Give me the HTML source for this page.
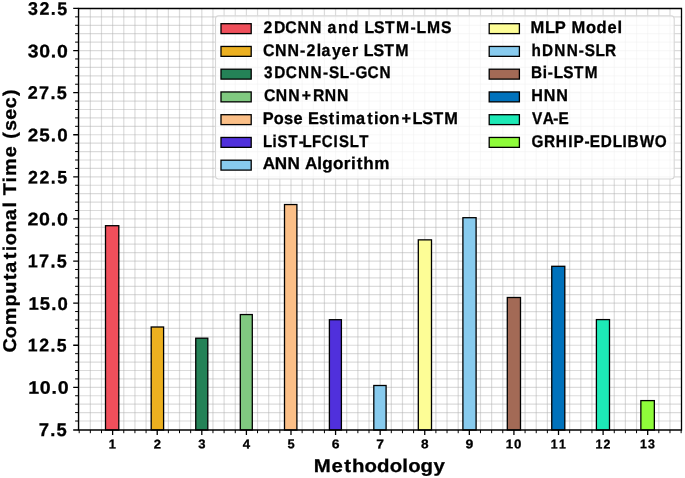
<!DOCTYPE html>
<html><head><meta charset="utf-8"><style>
html,body{margin:0;padding:0;background:#fff;}
body{width:685px;height:478px;overflow:hidden;font-family:"Liberation Sans",sans-serif;}
svg{display:block;will-change:transform;}
text{text-rendering:geometricPrecision;}
</style></head><body>
<svg width="685" height="478" viewBox="0 0 685 478">
<rect width="685" height="478" fill="#fff"/>
<path d="M79.19 8.5V430.0 M90.34 8.5V430.0 M101.49 8.5V430.0 M112.63 8.5V430.0 M123.78 8.5V430.0 M134.93 8.5V430.0 M146.07 8.5V430.0 M157.22 8.5V430.0 M168.37 8.5V430.0 M179.51 8.5V430.0 M190.66 8.5V430.0 M201.81 8.5V430.0 M212.96 8.5V430.0 M224.10 8.5V430.0 M235.25 8.5V430.0 M246.40 8.5V430.0 M257.54 8.5V430.0 M268.69 8.5V430.0 M279.84 8.5V430.0 M290.99 8.5V430.0 M302.13 8.5V430.0 M313.28 8.5V430.0 M324.43 8.5V430.0 M335.57 8.5V430.0 M346.72 8.5V430.0 M357.87 8.5V430.0 M369.01 8.5V430.0 M380.16 8.5V430.0 M391.31 8.5V430.0 M402.46 8.5V430.0 M413.60 8.5V430.0 M424.75 8.5V430.0 M435.90 8.5V430.0 M447.04 8.5V430.0 M458.19 8.5V430.0 M469.34 8.5V430.0 M480.48 8.5V430.0 M491.63 8.5V430.0 M502.78 8.5V430.0 M513.92 8.5V430.0 M525.07 8.5V430.0 M536.22 8.5V430.0 M547.37 8.5V430.0 M558.51 8.5V430.0 M569.66 8.5V430.0 M580.81 8.5V430.0 M591.95 8.5V430.0 M603.10 8.5V430.0 M614.25 8.5V430.0 M625.39 8.5V430.0 M636.54 8.5V430.0 M647.69 8.5V430.0 M658.84 8.5V430.0 M669.98 8.5V430.0" stroke="#b0b0b0" stroke-opacity="0.45" stroke-width="1.2" fill="none"/>
<path d="M78.5 421.02H681.5 M78.5 412.60H681.5 M78.5 404.18H681.5 M78.5 395.76H681.5 M78.5 387.34H681.5 M78.5 378.92H681.5 M78.5 370.50H681.5 M78.5 362.08H681.5 M78.5 353.66H681.5 M78.5 345.24H681.5 M78.5 336.82H681.5 M78.5 328.40H681.5 M78.5 319.98H681.5 M78.5 311.56H681.5 M78.5 303.14H681.5 M78.5 294.72H681.5 M78.5 286.30H681.5 M78.5 277.88H681.5 M78.5 269.46H681.5 M78.5 261.04H681.5 M78.5 252.62H681.5 M78.5 244.20H681.5 M78.5 235.78H681.5 M78.5 227.36H681.5 M78.5 218.94H681.5 M78.5 210.52H681.5 M78.5 202.10H681.5 M78.5 193.68H681.5 M78.5 185.26H681.5 M78.5 176.84H681.5 M78.5 168.42H681.5 M78.5 160.00H681.5 M78.5 151.58H681.5 M78.5 143.16H681.5 M78.5 134.74H681.5 M78.5 126.32H681.5 M78.5 117.90H681.5 M78.5 109.48H681.5 M78.5 101.06H681.5 M78.5 92.64H681.5 M78.5 84.22H681.5 M78.5 75.80H681.5 M78.5 67.38H681.5 M78.5 58.96H681.5 M78.5 50.54H681.5 M78.5 42.12H681.5 M78.5 33.70H681.5 M78.5 25.28H681.5 M78.5 16.86H681.5" stroke="#b0b0b0" stroke-opacity="0.45" stroke-width="1.2" fill="none"/>
<rect x="105.50" y="225.70" width="13.30" height="204.30" fill="#EF4F5B" stroke="#000" stroke-width="1.3"/>
<rect x="151.20" y="327.00" width="12.40" height="103.00" fill="#ECB020" stroke="#000" stroke-width="1.3"/>
<rect x="195.75" y="338.20" width="12.05" height="91.80" fill="#248257" stroke="#000" stroke-width="1.3"/>
<rect x="240.30" y="314.55" width="12.00" height="115.45" fill="#80C980" stroke="#000" stroke-width="1.3"/>
<rect x="284.50" y="204.55" width="12.40" height="225.45" fill="#FBBF87" stroke="#000" stroke-width="1.3"/>
<rect x="329.40" y="319.70" width="12.00" height="110.30" fill="#5030DC" stroke="#000" stroke-width="1.3"/>
<rect x="373.80" y="385.50" width="12.30" height="44.50" fill="#88CBEE" stroke="#000" stroke-width="1.3"/>
<rect x="418.30" y="239.86" width="13.20" height="190.14" fill="#FDFD96" stroke="#000" stroke-width="1.3"/>
<rect x="462.90" y="217.70" width="13.20" height="212.30" fill="#88CBEE" stroke="#000" stroke-width="1.3"/>
<rect x="507.30" y="297.50" width="13.20" height="132.50" fill="#A36A56" stroke="#000" stroke-width="1.3"/>
<rect x="551.75" y="266.30" width="13.05" height="163.70" fill="#0072BC" stroke="#000" stroke-width="1.3"/>
<rect x="596.40" y="319.60" width="13.10" height="110.40" fill="#1DE9B6" stroke="#000" stroke-width="1.3"/>
<rect x="640.86" y="400.60" width="13.49" height="29.40" fill="#8FFC3A" stroke="#000" stroke-width="1.3"/>
<path d="M78.5 430.00H73.2 M78.5 387.34H73.2 M78.5 345.24H73.2 M78.5 303.14H73.2 M78.5 261.04H73.2 M78.5 218.94H73.2 M78.5 176.84H73.2 M78.5 134.74H73.2 M78.5 92.64H73.2 M78.5 50.54H73.2 M78.5 8.44H73.2 M112.63 430.0V435.0 M157.22 430.0V435.0 M201.81 430.0V435.0 M246.40 430.0V435.0 M290.99 430.0V435.0 M335.57 430.0V435.0 M380.16 430.0V435.0 M424.75 430.0V435.0 M469.34 430.0V435.0 M513.92 430.0V435.0 M558.51 430.0V435.0 M603.10 430.0V435.0 M647.69 430.0V435.0" stroke="#000" stroke-width="1.3"/>
<path d="M78.5 421.02H75.1 M78.5 412.60H75.1 M78.5 404.18H75.1 M78.5 395.76H75.1 M78.5 378.92H75.1 M78.5 370.50H75.1 M78.5 362.08H75.1 M78.5 353.66H75.1 M78.5 336.82H75.1 M78.5 328.40H75.1 M78.5 319.98H75.1 M78.5 311.56H75.1 M78.5 294.72H75.1 M78.5 286.30H75.1 M78.5 277.88H75.1 M78.5 269.46H75.1 M78.5 252.62H75.1 M78.5 244.20H75.1 M78.5 235.78H75.1 M78.5 227.36H75.1 M78.5 210.52H75.1 M78.5 202.10H75.1 M78.5 193.68H75.1 M78.5 185.26H75.1 M78.5 168.42H75.1 M78.5 160.00H75.1 M78.5 151.58H75.1 M78.5 143.16H75.1 M78.5 126.32H75.1 M78.5 117.90H75.1 M78.5 109.48H75.1 M78.5 101.06H75.1 M78.5 84.22H75.1 M78.5 75.80H75.1 M78.5 67.38H75.1 M78.5 58.96H75.1 M78.5 42.12H75.1 M78.5 33.70H75.1 M78.5 25.28H75.1 M78.5 16.86H75.1 M79.19 430.0V433.2 M90.34 430.0V433.2 M101.49 430.0V433.2 M123.78 430.0V433.2 M134.93 430.0V433.2 M146.07 430.0V433.2 M168.37 430.0V433.2 M179.51 430.0V433.2 M190.66 430.0V433.2 M212.96 430.0V433.2 M224.10 430.0V433.2 M235.25 430.0V433.2 M257.54 430.0V433.2 M268.69 430.0V433.2 M279.84 430.0V433.2 M302.13 430.0V433.2 M313.28 430.0V433.2 M324.43 430.0V433.2 M346.72 430.0V433.2 M357.87 430.0V433.2 M369.01 430.0V433.2 M391.31 430.0V433.2 M402.46 430.0V433.2 M413.60 430.0V433.2 M435.90 430.0V433.2 M447.04 430.0V433.2 M458.19 430.0V433.2 M480.48 430.0V433.2 M491.63 430.0V433.2 M502.78 430.0V433.2 M525.07 430.0V433.2 M536.22 430.0V433.2 M547.37 430.0V433.2 M569.66 430.0V433.2 M580.81 430.0V433.2 M591.95 430.0V433.2 M614.25 430.0V433.2 M625.39 430.0V433.2 M636.54 430.0V433.2 M658.84 430.0V433.2 M669.98 430.0V433.2 M681.13 430.0V433.2" stroke="#000" stroke-width="1.0"/>
<path d="M78.5 7.85V430.65M681.5 7.85V430.65M77.85 8.5H682.15M77.85 430.0H682.15" fill="none" stroke="#000" stroke-width="1.3"/>
<rect x="215.5" y="15.85" width="458.7" height="163.2" rx="3" fill="#fff" fill-opacity="0.8" stroke="#d6d6d6" stroke-width="1.1"/>
<rect x="221.0" y="23.70" width="30.2" height="9.9" fill="#EF4F5B" stroke="#000" stroke-width="1.3"/>
<rect x="221.0" y="46.45" width="30.2" height="9.9" fill="#ECB020" stroke="#000" stroke-width="1.3"/>
<rect x="221.0" y="69.20" width="30.2" height="9.9" fill="#248257" stroke="#000" stroke-width="1.3"/>
<rect x="221.0" y="91.95" width="30.2" height="9.9" fill="#80C980" stroke="#000" stroke-width="1.3"/>
<rect x="221.0" y="114.70" width="30.2" height="9.9" fill="#FBBF87" stroke="#000" stroke-width="1.3"/>
<rect x="221.0" y="137.45" width="30.2" height="9.9" fill="#5030DC" stroke="#000" stroke-width="1.3"/>
<rect x="221.0" y="160.20" width="30.2" height="9.9" fill="#88CBEE" stroke="#000" stroke-width="1.3"/>
<rect x="489.2" y="23.70" width="30.2" height="9.9" fill="#FDFD96" stroke="#000" stroke-width="1.3"/>
<rect x="489.2" y="46.45" width="30.2" height="9.9" fill="#88CBEE" stroke="#000" stroke-width="1.3"/>
<rect x="489.2" y="69.20" width="30.2" height="9.9" fill="#A36A56" stroke="#000" stroke-width="1.3"/>
<rect x="489.2" y="91.95" width="30.2" height="9.9" fill="#0072BC" stroke="#000" stroke-width="1.3"/>
<rect x="489.2" y="114.70" width="30.2" height="9.9" fill="#1DE9B6" stroke="#000" stroke-width="1.3"/>
<rect x="489.2" y="137.45" width="30.2" height="9.9" fill="#8FFC3A" stroke="#000" stroke-width="1.3"/>
<g font-family="Liberation Sans" font-weight="bold" fill="#000" stroke="#000" stroke-width="0.3"><text x="-2.09 63.52 136.43 213.08 293.34 365.56 403.89 471.44 539.06 600.14 639.29 700.36 770.26 839.77 932.15 970.12 1036.12 1126.63" transform="translate(263.90,32.95) scale(0.1573,0.1696) rotate(0)" font-size="100.0" stroke-width="1.835">2DCNN and LSTM-LMS</text><text x="-7.53 67.81 146.69 225.03 266.36 329.42 359.63 425.46 485.17 550.38 589.29 625.31 685.33 754.06 822.19" transform="translate(264.10,55.70) scale(0.1595,0.1696) rotate(0)" font-size="100.0" stroke-width="1.823">CNN-2layer LSTM</text><text x="-0.23 67.45 142.13 220.62 302.84 383.68 422.94 493.71 557.81 596.25 674.19 752.69" transform="translate(264.00,78.45) scale(0.1536,0.1696) rotate(0)" font-size="100.0" stroke-width="1.856">3DCNN-SL-GCN</text><text x="-7.37 68.39 147.72 233.79 304.44 379.43 458.76" transform="translate(265.10,101.20) scale(0.1570,0.1696) rotate(0)" font-size="100.0" stroke-width="1.837">CNN+RNN</text><text x="-7.20 61.05 123.55 181.69 237.30 271.21 337.13 397.27 438.53 472.21 564.53 632.45 673.71 704.71 769.52 842.33 910.72 969.71 1037.34 1104.15" transform="translate(263.80,123.95) scale(0.1634,0.1696) rotate(0)" font-size="100.0" stroke-width="1.802">Pose Estimation+LSTM</text><text x="-6.18 58.42 92.10 165.06 233.93 259.60 323.25 388.50 467.55 502.91 575.13 639.77" transform="translate(263.80,146.70) scale(0.1493,0.1696) rotate(0)" font-size="100.0" stroke-width="1.882">LiST-LFCISLT</text><text x="-2.09 69.19 143.40 215.62 245.81 317.61 347.14 410.02 474.34 516.12 549.31 588.28 652.53" transform="translate(263.00,169.45) scale(0.1705,0.1696) rotate(0)" font-size="100.0" stroke-width="1.764">ANN Algorithm</text><text x="-4.35 82.17 141.16 207.86 243.00 330.82 394.02 460.53 521.56" transform="translate(531.30,32.95) scale(0.1655,0.1696) rotate(0)" font-size="100.0" stroke-width="1.791">MLP Model</text><text x="-4.54 64.94 144.39 224.93 304.51 342.64 411.97 474.03" transform="translate(532.10,55.70) scale(0.1536,0.1696) rotate(0)" font-size="100.0" stroke-width="1.856">hDNN-SLR</text><text x="-7.97 67.99 101.54 140.00 201.63 272.13 342.37" transform="translate(532.20,78.45) scale(0.1538,0.1696) rotate(0)" font-size="100.0" stroke-width="1.856">Bi-LSTM</text><text x="-5.57 72.21 149.98" transform="translate(532.20,101.20) scale(0.1607,0.1696) rotate(0)" font-size="100.0" stroke-width="1.817">HNN</text><text x="2.53 72.92 141.71 176.22" transform="translate(531.50,123.95) scale(0.1537,0.1696) rotate(0)" font-size="100.0" stroke-width="1.856">VA-E</text><text x="-3.96 77.54 154.42 235.44 270.31 342.08 376.59 448.78 526.22 590.64 623.51 703.18 801.21" transform="translate(532.20,146.70) scale(0.1529,0.1696) rotate(0)" font-size="100.0" stroke-width="1.861">GRHIP-EDLIBWO</text><text x="-1.69 63.20 126.96 163.14" transform="translate(28.20,14.72) scale(0.1782,0.1817) rotate(0.3)" font-size="100.0" stroke-width="1.667">32.5</text><text x="-3.78 55.95 115.42 147.74" transform="translate(28.40,57.27) scale(0.1936,0.1817) rotate(0.3)" font-size="100.0" stroke-width="1.599">30.0</text><text x="-3.31 59.48 123.04 158.32" transform="translate(28.40,98.82) scale(0.1794,0.1817) rotate(0.3)" font-size="100.0" stroke-width="1.662">27.5</text><text x="-3.86 58.14 119.93 154.34" transform="translate(28.40,141.17) scale(0.1873,0.1817) rotate(0.3)" font-size="100.0" stroke-width="1.626">25.0</text><text x="-2.81 62.02 125.90 162.21" transform="translate(28.40,183.47) scale(0.1771,0.1817) rotate(0.3)" font-size="100.0" stroke-width="1.672">22.5</text><text x="-4.87 54.74 114.25 146.61" transform="translate(28.40,225.27) scale(0.1956,0.1817) rotate(0.3)" font-size="100.0" stroke-width="1.590">20.0</text><text x="-6.43 56.44 120.10 155.47" transform="translate(28.80,267.27) scale(0.1799,0.1843) rotate(0.3)" font-size="100.0" stroke-width="1.648">17.5</text><text x="-6.95 55.22 117.13 151.65" transform="translate(29.70,309.82) scale(0.1841,0.1817) rotate(0.3)" font-size="100.0" stroke-width="1.640">15.0</text><text x="-5.93 58.97 122.97 159.40" transform="translate(28.80,351.29) scale(0.1761,0.1817) rotate(0.3)" font-size="100.0" stroke-width="1.677">12.5</text><text x="-7.94 51.86 111.43 143.86" transform="translate(29.70,393.67) scale(0.1953,0.1817) rotate(0.3)" font-size="100.0" stroke-width="1.592">10.0</text><text x="-2.96 60.00 94.67" transform="translate(39.20,436.02) scale(0.1839,0.1843) rotate(0.3)" font-size="100.0" stroke-width="1.630">7.5</text><text x="-5.33" transform="translate(109.50,448.40) scale(0.1282,0.1297) rotate(0.3)" font-size="100.0" stroke-width="2.326">1</text><text x="-2.34" transform="translate(153.98,448.40) scale(0.1289,0.1279) rotate(0.3)" font-size="100.0" stroke-width="2.336">2</text><text x="-1.34" transform="translate(198.45,448.27) scale(0.1296,0.1261) rotate(0.3)" font-size="100.0" stroke-width="2.347">3</text><text x="-0.36" transform="translate(242.73,448.40) scale(0.1315,0.1297) rotate(0.3)" font-size="100.0" stroke-width="2.297">4</text><text x="-1.83" transform="translate(287.63,448.27) scale(0.1283,0.1279) rotate(0.3)" font-size="100.0" stroke-width="2.342">5</text><text x="-2.42" transform="translate(332.05,448.27) scale(0.1393,0.1261) rotate(0.3)" font-size="100.0" stroke-width="2.261">6</text><text x="-3.41" transform="translate(376.80,448.40) scale(0.1380,0.1297) rotate(0.3)" font-size="100.0" stroke-width="2.242">7</text><text x="-1.89" transform="translate(421.25,448.27) scale(0.1353,0.1261) rotate(0.3)" font-size="100.0" stroke-width="2.296">8</text><text x="-2.42" transform="translate(465.81,448.27) scale(0.1393,0.1261) rotate(0.3)" font-size="100.0" stroke-width="2.261">9</text><text x="-7.11 54.89" transform="translate(506.73,448.27) scale(0.1319,0.1261) rotate(0.3)" font-size="100.0" stroke-width="2.326">10</text><text x="-5.27 61.52" transform="translate(551.45,448.40) scale(0.1220,0.1297) rotate(0.3)" font-size="100.0" stroke-width="2.383">11</text><text x="-5.38 60.98" transform="translate(596.13,448.40) scale(0.1226,0.1279) rotate(0.3)" font-size="100.0" stroke-width="2.395">12</text><text x="-5.48 60.37" transform="translate(640.69,448.27) scale(0.1231,0.1261) rotate(0.3)" font-size="100.0" stroke-width="2.408">13</text><text x="-5.70 81.16 143.24 181.71 243.44 304.38 366.67 428.62 457.14 518.09 581.12" transform="translate(315.00,471.55) scale(0.2038,0.1841) rotate(0)" font-size="100.0" stroke-width="1.547">Methodology</text><g transform="rotate(-90)"><text x="-8.41 63.58 128.85 223.39 288.29 356.16 394.39 461.57 502.32 532.68 596.62 659.06 723.28 751.06 785.01 848.82 881.64 976.27 1031.89 1069.28 1108.97 1166.32 1223.28 1285.75" transform="translate(-350.80,15.55) scale(0.1982,0.1841) rotate(0)" font-size="100.0" stroke-width="1.570">Computational Time (sec)</text></g></g>
</svg>
</body></html>
